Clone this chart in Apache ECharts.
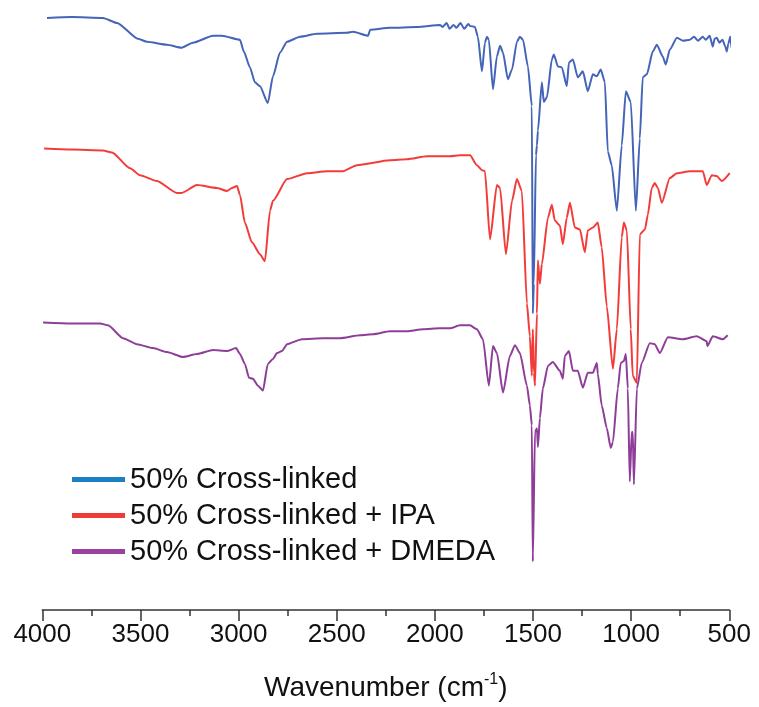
<!DOCTYPE html>
<html>
<head>
<meta charset="utf-8">
<script src="https://cdn.jsdelivr.net/npm/echarts@6/dist/echarts.min.js"></script>
<style>
html,body{margin:0;padding:0;background:#fff;}
#chart{width:759px;height:707px;}
</style>
</head>
<body>
<div id="chart"></div>
<script>
// Series names
const seriesNames = ['50% Cross-linked', '50% Cross-linked + IPA', '50% Cross-linked + DMEDA'];

// x tick labels (wavenumber, cm-1)
const xTicks = [4000, 3500, 3000, 2500, 2000, 1500, 1000, 500];

// 50% Cross-linked (blue): wavenumber and stacked transmittance (a.u.)
const blueWn = [3976,3850,3691,3619,3513,3467,3365,3290,3233,3130,3085,2993,2973,2942,2917,2891,2851,2825,2789,2753,2687,2600,2448,2417,2340,2330,2229,2091,1974,1960,1940,1925,1905,1890,1870,1850,1830,1821,1796,1781,1760,1745,1735,1725,1704,1684,1668,1653,1628,1607,1582,1567,1551,1526,1506,1501,1496,1485,1480,1475,1455,1445,1429,1404,1394,1373,1353,1328,1317,1297,1272,1246,1221,1195,1175,1155,1134,1119,1099,1073,1048,1027,1002,976,956,941,920,890,869,839,824,803,767,735,701,680,660,635,620,600,584,575,564,550,535,520,513,505,495,488,482,475,470];
const blueT  = [599,600,599,594,578,575,572,569,574,581,581,577,565,549,534,530,513,540,564,575,580,583,584,585,581,587,589,590,592,590,594,588,592,589,594,588,593,591,590,580,545,574,580,577,527,560,571,564,537,547,575,580,577,550,510,300,330,460,470,485,534,514,519,557,562,550,549,530,554,557,539,545,525,542,540,547,534,464,450,404,470,525,514,404,477,539,542,565,572,560,552,567,579,576,577,580,576,580,577,581,570,578,579,574,577,570,565,573,580,568,577,584,580];

// 50% Cross-linked + IPA (red)
const redWn = [3991,3850,3691,3645,3553,3502,3416,3314,3290,3212,3110,3059,3034,3008,2993,2968,2932,2891,2866,2840,2825,2753,2651,2550,2468,2397,2229,2142,2040,1923,1872,1821,1786,1760,1745,1719,1684,1668,1638,1607,1582,1557,1531,1516,1506,1501,1495,1490,1480,1475,1465,1455,1424,1404,1389,1363,1348,1328,1312,1287,1261,1236,1221,1195,1170,1150,1124,1093,1073,1048,1037,1022,1002,992,971,956,930,915,895,880,864,844,803,767,700,635,615,589,564,538,498];
const redT  = [467,466,465,463,447,440,434,422,422,430,427,424,427,429,420,392,372,360,353,404,414,436,442,444,444,450,455,456,459,459,460,460,450,445,444,375,430,427,360,414,436,424,310,277,237,284,240,227,300,354,330,350,397,410,394,389,370,397,412,387,385,362,384,387,392,367,307,244,284,377,392,384,284,237,230,380,385,400,427,432,427,412,437,442,444,444,430,440,439,434,442];

// 50% Cross-linked + DMEDA (purple)
const purpleWn = [3996,3850,3706,3665,3589,3518,3436,3365,3284,3212,3130,3059,3013,2993,2968,2947,2927,2901,2876,2851,2825,2804,2779,2753,2677,2570,2484,2381,2315,2229,2142,2061,1974,1923,1872,1821,1786,1755,1725,1704,1684,1653,1618,1592,1567,1531,1516,1506,1501,1490,1480,1475,1465,1450,1424,1399,1363,1348,1338,1317,1297,1272,1246,1221,1195,1175,1170,1150,1124,1104,1093,1068,1053,1037,1027,1017,1007,997,992,986,971,946,905,880,854,813,737,666,615,612,584,533,508];
const purpleT  = [291,290,290,288,275,269,265,261,256,259,263,262,265,259,249,235,234,227,222,249,254,260,262,269,274,275,275,278,279,282,282,284,285,285,288,288,284,274,227,267,260,220,257,268,260,227,207,187,49,180,184,165,194,224,247,251,242,234,257,262,242,242,225,240,240,250,239,207,184,164,170,224,250,252,259,224,130,180,180,127,224,250,270,269,260,276,274,277,272,267,277,274,278];

const colors = {
  blue: '#4464b8',
  red: '#f23c3a',
  purple: '#8e3e98'
};
const legendColors = ['#1a80c4', '#ef3b36', '#9a40a0'];

function pairs(xs, ys) { return xs.map((x, i) => [x, ys[i]]); }

const chart = echarts.init(document.getElementById('chart'), null, {renderer: 'canvas'});
const font = '"Liberation Sans", Arial, sans-serif';

const lineCommon = {type: 'line', showSymbol: false, symbol: 'none', clip: false, smooth: 0.2, smoothMonotone: 'x'};

chart.setOption({
  animation: false,
  backgroundColor: '#ffffff',
  grid: {left: 42.3, right: 29.7, top: 17, bottom: 90},
  legend: {
    orient: 'vertical',
    left: 67,
    top: 460,
    icon: 'rect',
    itemWidth: 53,
    itemHeight: 5,
    itemGap: 7,
    textStyle: {fontFamily: font, fontSize: 29, lineHeight: 29, color: '#111'},
    data: seriesNames.map((n, i) => ({name: n, itemStyle: {color: legendColors[i]}}))
  },
  xAxis: {
    type: 'value',
    min: 500,
    max: 4000,
    interval: 500,
    inverse: true,
    name: '{a|Wavenumber (cm}{s|-1}{a|)}',
    nameLocation: 'middle',
    nameGap: 62,
    nameTextStyle: {
      rich: {
        a: {fontFamily: font, fontSize: 28, color: '#111', lineHeight: 32},
        s: {fontFamily: font, fontSize: 16, color: '#111', lineHeight: 32, verticalAlign: 'top', padding: [0, 0, 10, 0]}
      }
    },
    axisLine: {show: true, lineStyle: {color: '#333', width: 1.5}},
    axisTick: {show: true, inside: false, length: 11, lineStyle: {color: '#333', width: 1.5}},
    minorTick: {show: true, splitNumber: 2, length: 6, lineStyle: {color: '#333', width: 1.5}},
    splitLine: {show: false},
    axisLabel: {
      fontFamily: font, fontSize: 26, color: '#111', margin: 12,
      formatter: v => (xTicks.indexOf(v) >= 0 ? String(v) : '')
    }
  },
  yAxis: {
    type: 'value', min: 0, max: 600, show: false
  },
  series: [
    Object.assign({name: seriesNames[0], data: pairs(blueWn, blueT),
     lineStyle: {color: colors.blue, width: 2}, itemStyle: {color: legendColors[0]}, z: 3}, lineCommon),
    Object.assign({name: seriesNames[1], data: pairs(redWn, redT),
     lineStyle: {color: colors.red, width: 2}, itemStyle: {color: legendColors[1]}, z: 2}, lineCommon),
    Object.assign({name: seriesNames[2], data: pairs(purpleWn, purpleT),
     lineStyle: {color: colors.purple, width: 2}, itemStyle: {color: legendColors[2]}, z: 1}, lineCommon)
  ]
});
</script>
</body>
</html>
